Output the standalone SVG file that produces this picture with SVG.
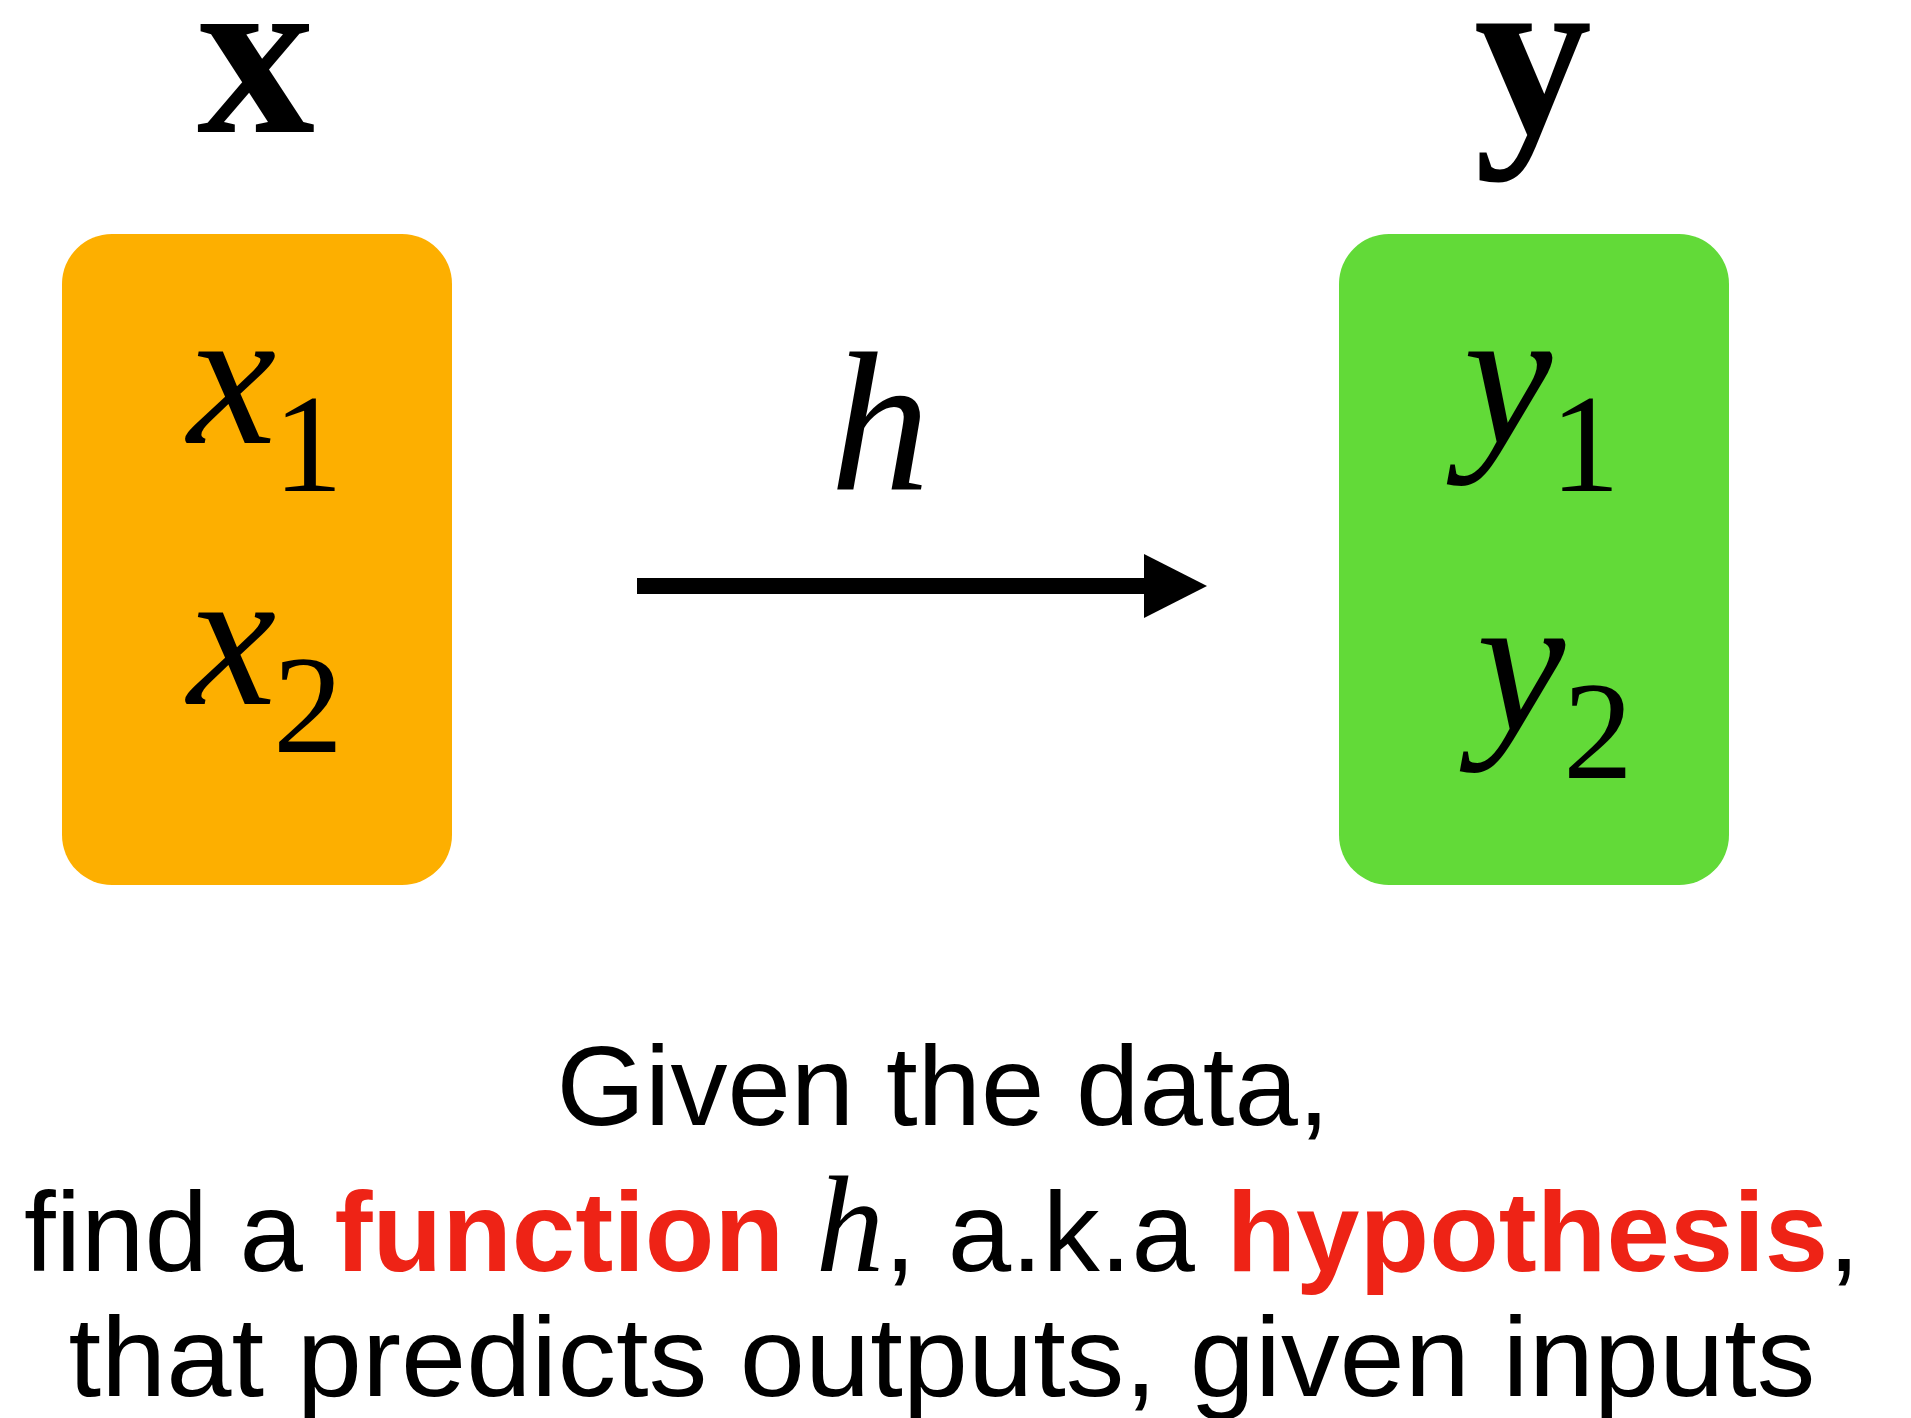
<svg xmlns="http://www.w3.org/2000/svg" width="1911" height="1418" viewBox="0 0 1911 1418">
<style>
.bold{font-family:"Liberation Serif","Times New Roman",serif;font-weight:bold;font-size:236px;fill:#000;text-anchor:middle}
.mi{font-family:"Liberation Serif","Times New Roman",serif;font-style:italic;font-size:200px;fill:#000;text-anchor:middle}
.sub{font-family:"Liberation Serif","Times New Roman",serif;font-size:140px;fill:#000;text-anchor:middle}
.cap{font-family:"Liberation Sans",Arial,sans-serif;font-size:114px;fill:#000;text-anchor:middle}
.red{font-weight:bold;fill:#EE2316}
.hi{font-family:"Liberation Serif","Times New Roman",serif;font-style:italic;font-size:137px}
</style>
<defs>
<marker id="ah" markerUnits="userSpaceOnUse" markerWidth="64" markerHeight="64" refX="0" refY="32" orient="auto">
<path d="M0,0 L63,32 L0,64 Z" fill="#000"/>
</marker>
</defs>
<rect width="1911" height="1418" fill="#fff"/>
<g id="node-x">
<text class="bold" x="256" y="132">x</text>
<rect x="62" y="234" width="390" height="651" rx="50" ry="50" fill="#FDAF00"/>
<text class="mi" x="232" y="443">x</text>
<text class="sub" x="308" y="491">1</text>
<text class="mi" x="232" y="704">x</text>
<text class="sub" x="308" y="752">2</text>
</g>
<g id="node-y">
<text class="bold" x="1533" y="132">y</text>
<rect x="1339" y="234" width="390" height="651" rx="50" ry="50" fill="#62DA38"/>
<text class="mi" x="1508" y="443">y</text>
<text class="sub" x="1585" y="491">1</text>
<text class="mi" x="1521" y="730">y</text>
<text class="sub" x="1598" y="778">2</text>
</g>
<g id="connectors">
<line x1="637" y1="586" x2="1144" y2="586" stroke="#000" stroke-width="16" marker-end="url(#ah)"/>
<text class="mi" x="880" y="490">h</text>
</g>
<g id="caption">
<text class="cap" x="943" y="1125">Given the data,</text>
<text class="cap" x="942" y="1271">find a <tspan class="red">function</tspan> <tspan class="hi">h</tspan>, a.k.a <tspan class="red">hypothesis</tspan>,</text>
<text class="cap" x="942" y="1396" textLength="1747" lengthAdjust="spacingAndGlyphs">that predicts outputs, given inputs</text>
</g>
</svg>
